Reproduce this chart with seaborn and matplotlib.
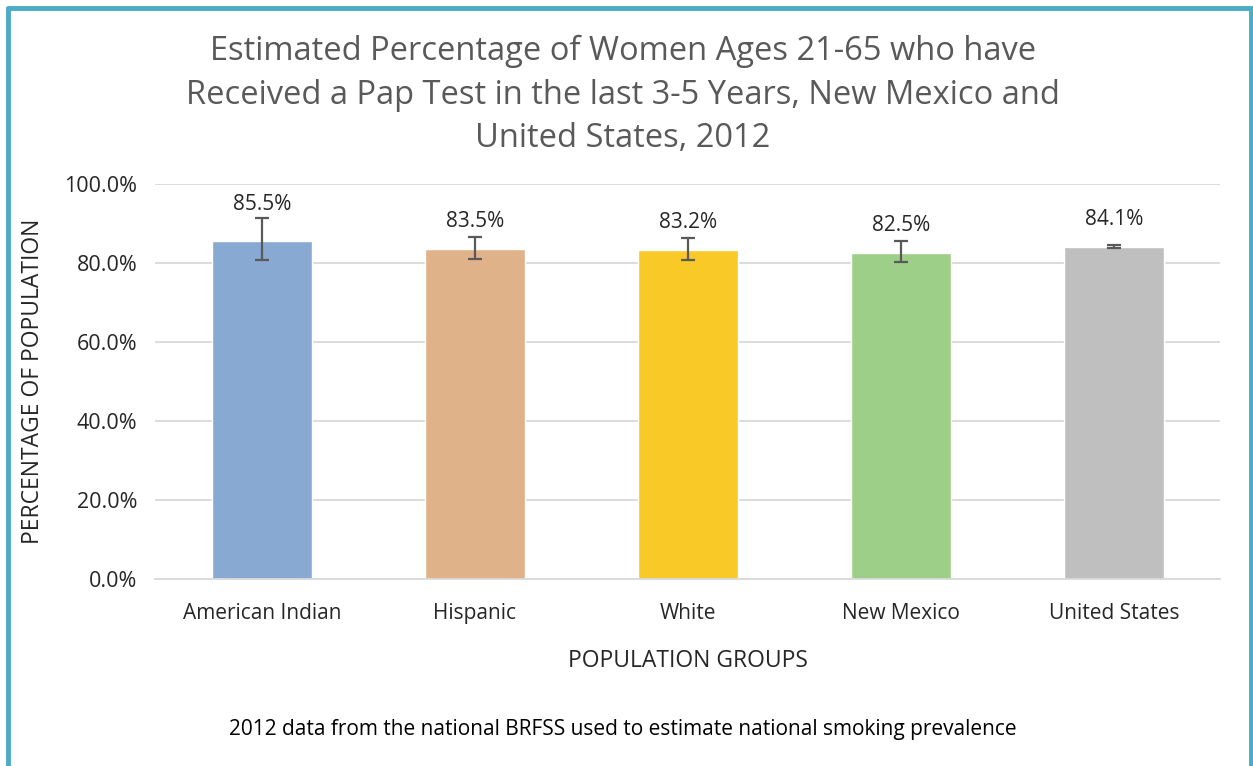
import matplotlib
matplotlib.use("Agg")
import matplotlib.pyplot as plt
import matplotlib.lines as mlines
import pandas as pd
import numpy as np
import seaborn as sns

groups = ["American Indian", "Hispanic", "White", "New Mexico", "United States"]
values = [85.5, 83.5, 83.2, 82.5, 84.1]
err_low = [80.8, 81.1, 80.8, 80.1, 83.7]
err_high = [91.4, 86.6, 86.3, 85.6, 84.5]
colors = ["#88A9D2", "#E0B28A", "#F9C928", "#9DCF88", "#BFBFBF"]

df = pd.DataFrame({"group": groups, "value": values})

sns.set_style("white")
plt.rcParams["font.family"] = ["Open Sans", "DejaVu Sans"]

fig = plt.figure(figsize=(12.53, 7.66), dpi=100)
ax = fig.add_axes([0.124, 0.244, 0.850, 0.516])

sns.barplot(data=df, x="group", y="value", hue="group", palette=colors,
            saturation=1, width=0.47, legend=False, ax=ax, zorder=2)

x = np.arange(len(groups))
v = np.array(values)
yerr = np.array([v - np.array(err_low), np.array(err_high) - v])
ax.errorbar(x, v, yerr=yerr, fmt="none", ecolor="#595959", elinewidth=1.6,
            capsize=5, capthick=1.6, zorder=3)

for xi, val, hi in zip(x, values, err_high):
    ax.text(xi, max(val + 7.0, hi + 3.4), f"{val:.1f}%", ha="center", va="center",
            fontsize=15, color="#262626")

ax.set_ylim(0, 100)
ax.set_xlim(-0.5, 4.5)
ax.set_yticks(np.arange(0, 101, 20))
ax.set_yticklabels([f"{t:.1f}%" for t in np.arange(0, 101, 20)])
ax.yaxis.grid(True, color="#D9D9D9", linewidth=1.3, zorder=0)
ax.set_axisbelow(True)
for s in ["top", "right", "left"]:
    ax.spines[s].set_visible(False)
ax.spines["bottom"].set_color("#D9D9D9")
ax.spines["bottom"].set_linewidth(1.3)
ax.tick_params(axis="both", length=0, labelcolor="#262626")
ax.tick_params(axis="y", labelsize=15.5, pad=13)
ax.tick_params(axis="x", labelsize=15, pad=17)

ax.set_xlabel("POPULATION GROUPS", fontsize=16.5, color="#262626", labelpad=18)
ax.set_ylabel("PERCENTAGE OF POPULATION", fontsize=16.5, color="#262626", labelpad=14)

fig.text(0.497, 0.876,
         "Estimated Percentage of Women Ages 21-65 who have\n"
         "Received a Pap Test in the last 3-5 Years, New Mexico and\n"
         "United States, 2012",
         ha="center", va="center", fontsize=23.5, color="#595959", linespacing=1.43)

fig.text(0.497, 0.048,
         "2012 data from the national BRFSS used to estimate national smoking prevalence",
         ha="center", va="center", fontsize=15, color="#000000")

teal = "#4BACC6"
for xs, ys in [([8, 8], [0, 758]), ([8, 1251], [758, 758]), ([1251, 1251], [0, 758])]:
    fig.add_artist(mlines.Line2D(np.array(xs) / 1253, np.array(ys) / 766,
                                 color=teal, linewidth=3.5, transform=fig.transFigure))

fig.savefig("out.png", dpi=100)
